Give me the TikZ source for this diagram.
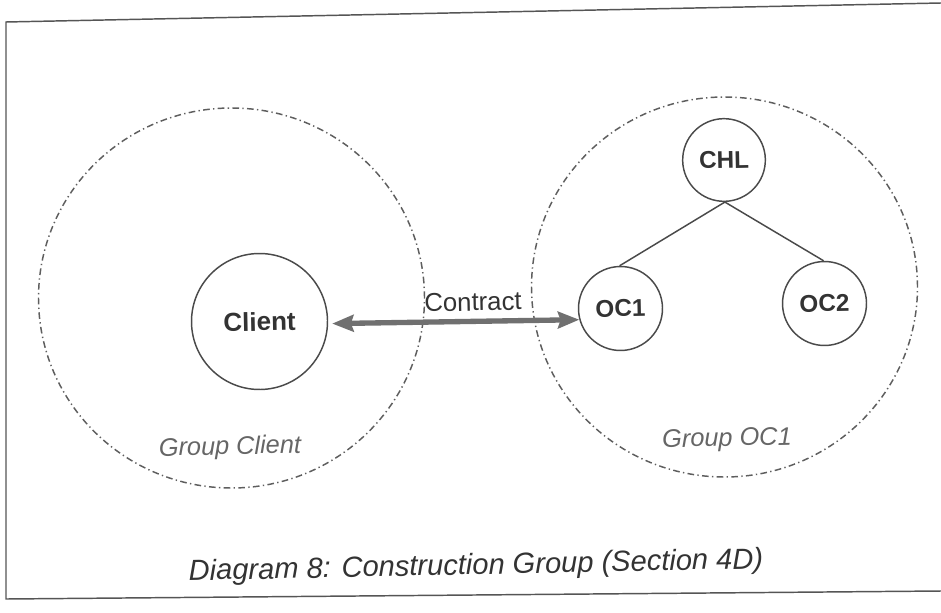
\documentclass[tikz,border=0pt]{standalone}
\usepackage{fontspec}
\setmainfont{Liberation Sans}
\usetikzlibrary{arrows.meta,shapes.geometric}
\definecolor{inkdark}{HTML}{333333}
\definecolor{edgecol}{HTML}{4A4A4A}
\definecolor{ringcol}{HTML}{5E5E5E}
\definecolor{labelgray}{HTML}{666666}
\definecolor{arrowgray}{HTML}{707070}
\definecolor{framecol}{HTML}{555555}
\begin{document}
\begin{tikzpicture}[x=0.75pt,y=-0.75pt,
  tilt/.style={rotate=1.2},
  member/.style={circle, draw=edgecol, line width=1.1pt, inner sep=0pt,
    text=inkdark, font=\bfseries\fontsize{18.2}{20}\selectfont, minimum size=63pt},
  groupring/.style={ellipse, draw=ringcol, line width=1.1pt, inner sep=0pt,
    dash pattern=on 5pt off 2.5pt on 1pt off 2.5pt,
    minimum width=289.5pt, minimum height=285pt},
  grouplabel/.style={tilt, text=labelgray, font=\itshape\fontsize{19}{22}\selectfont},
  link/.style={draw=edgecol, line width=1.1pt},
  contractarrow/.style={draw=arrowgray, line width=4pt,
    {Stealth[length=16pt,width=12.5pt,inset=2pt]}-{Stealth[length=16pt,width=12.5pt,inset=2pt]}}
]
% canvas and page frame
\fill[white] (0,0) rectangle (941,613);
\useasboundingbox (0,0) rectangle (941,613);
\draw[framecol, line width=1.1pt] (941,3) -- (6,22) -- (6,599) -- (941,591);

% group boundaries
\node[groupring] (gclient) at (231.5,298) {};
\node[groupring] (goc) at (724.5,287) {};

% parties
\node[member, tilt, minimum size=102pt, font=\bfseries\fontsize{19.5}{22}\selectfont] (client) at (259.5,321.5) {Client};
\node[member, tilt, minimum size=62pt] (chl) at (724,160) {CHL};
\node[member, tilt] (oc1) at (620.5,308.5) {OC1};
\node[member, tilt] (oc2) at (824.5,303.5) {OC2};

% group structure
\draw[link] (chl.south) -- (oc1.north);
\draw[link] (chl.south) -- (oc2.north);

% contract between client and OC1
\draw[contractarrow, shorten <=3pt] (client.-3) -- (oc1.194);
\node[tilt, text=inkdark, font=\fontsize{19.3}{22}\selectfont] (contract) at (473,302) {Contract};

% group labels
\node[grouplabel] (lclient) at (230,448) {Group Client};
\node[grouplabel] (loc) at (727,440) {Group OC1};

% caption
\node[tilt, text=inkdark, font=\itshape\fontsize{21.8}{25}\selectfont] (caption) at (476,567) {Diagram 8: Construction Group (Section 4D)};
\end{tikzpicture}
\end{document}
